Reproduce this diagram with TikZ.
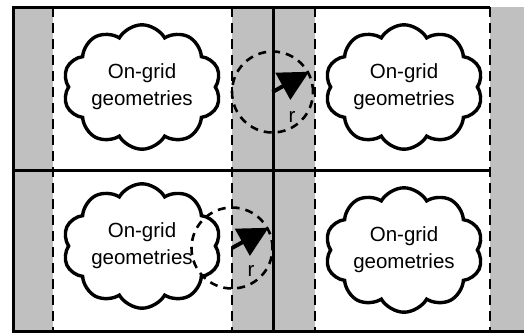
\documentclass[tikz,border=0pt]{standalone}
\usepackage{fontspec}
\setmainfont{Liberation Sans}
\usetikzlibrary{shapes.symbols,arrows.meta}
\definecolor{band}{RGB}{192,192,192}

\begin{document}
\begin{tikzpicture}[
      x=1pt, y=-1pt,
      every node/.style={font=\fontsize{20.5}{27}\selectfont},
      geo/.style={cloud, draw, line width=3.4pt, cloud puffs=10, cloud puff arc=120,
                  aspect=1.38, minimum width=158pt, minimum height=114pt,
                  inner sep=0pt, align=center},
      grid/.style={line width=3pt},
      sep/.style={line width=2.6pt, dash pattern=on 10pt off 6pt},
      reach/.style={circle, draw, line width=2.6pt, dash pattern=on 8pt off 6pt,
                    minimum size=81pt, inner sep=0pt},
      arrow/.style={-{Triangle[length=30pt, width=30pt]}, line width=4pt}
    ]
    \useasboundingbox (0,0) rectangle (524,333);

    % shaded bands
    \fill[band] (13,7) rectangle (53,331);
    \fill[band] (232,7) rectangle (315,331);
    \fill[band] (490,7) rectangle (524,331);

    % band borders
    \foreach \x in {53,232,315,490}
      \draw[sep] (\x,7) -- (\x,331);

    % grid lines
    \draw[grid] (490,7) -- (13,7) -- (13,331) -- (524,331);
    \draw[grid] (273,7) -- (273,331);
    \draw[grid] (13,170) -- (490,170);

    % geometries
    \node[geo] (geoTL) at (142,87)  {On-grid\\geometries};
    \node[geo] (geoTR) at (404,87)  {On-grid\\geometries};
    \node[geo] (geoBL) at (142,246) {On-grid\\geometries};
    \node[geo] (geoBR) at (404,250) {On-grid\\geometries};

    % search radius
    \node[reach] (reachT) at (272.5,92) {};
    \node[reach] (reachB) at (232,248) {};
    \draw[arrow] (reachT.center) -- (reachT.29);
    \draw[arrow] (reachB.center) -- (reachB.29);
    \node (rT) at (292,117) {r};
    \node (rB) at (251,271) {r};
  \end{tikzpicture}
\end{document}
